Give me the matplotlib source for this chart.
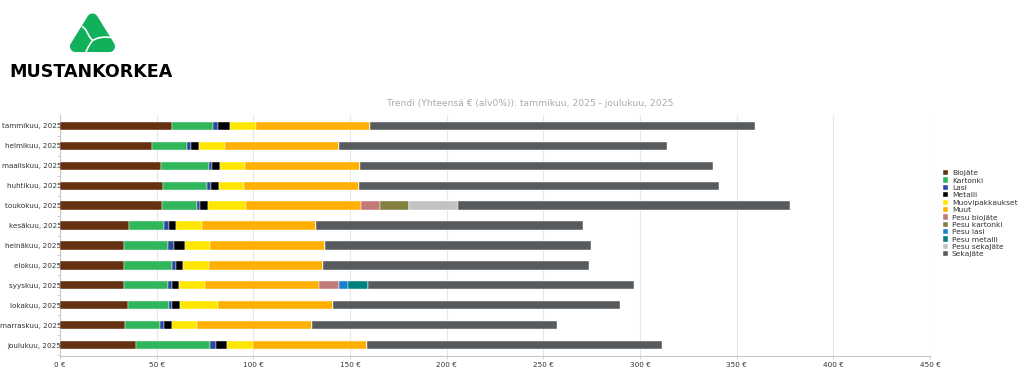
import numpy as np
import matplotlib
matplotlib.use("Agg")
import matplotlib.pyplot as plt
from matplotlib.patches import Polygon

# --- data -------------------------------------------------------------
months = ["tammikuu, 2025", "helmikuu, 2025", "maaliskuu, 2025", "huhtikuu, 2025",
          "toukokuu, 2025", "kesäkuu, 2025", "heinäkuu, 2025", "elokuu, 2025",
          "syyskuu, 2025", "lokakuu, 2025", "marraskuu, 2025", "joulukuu, 2025"]

biojate        = [57.8, 47.8, 52.3, 53.5, 52.6, 35.9, 33.3, 33.3, 33.3, 35.2, 33.8, 39.5]
kartonki       = [21.5, 18.1, 24.6, 22.5, 18.1, 18.1, 22.4, 24.6, 22.4, 21.0, 17.9, 37.9]
lasi           = [2.6, 1.9, 1.7, 2.1, 1.9, 2.2, 3.1, 2.1, 2.2, 1.9, 2.1, 3.3]
metalli        = [6.0, 4.1, 4.3, 4.2, 4.1, 4.0, 5.9, 3.8, 3.8, 4.1, 4.1, 5.8]
muovi          = [13.3, 13.5, 12.8, 12.9, 19.5, 13.1, 13.1, 13.1, 13.1, 19.5, 13.0, 13.2]
muut           = [59.2, 58.9, 59.5, 59.3, 59.4, 59.1, 59.3, 59.2, 59.3, 59.5, 59.3, 59.1]
pesu_biojate   = [0, 0, 0, 0, 9.9, 0, 0, 0, 10.1, 0, 0, 0]
pesu_kartonki  = [0, 0, 0, 0, 15.2, 0, 0, 0, 0, 0, 0, 0]
pesu_lasi      = [0, 0, 0, 0, 0, 0, 0, 0, 4.9, 0, 0, 0]
pesu_metalli   = [0, 0, 0, 0, 0, 0, 0, 0, 10.2, 0, 0, 0]
pesu_sekajate  = [0, 0, 0, 0, 25.2, 0, 0, 0, 0, 0, 0, 0]
sekajate       = [199.1, 169.6, 182.3, 186.4, 171.7, 138.0, 137.6, 137.7, 137.6, 148.3, 127.1, 152.5]

series_names = ["Biojäte", "Kartonki", "Lasi", "Metalli", "Muovipakkaukset", "Muut",
                "Pesu biojäte", "Pesu kartonki", "Pesu lasi", "Pesu metalli",
                "Pesu sekajäte", "Sekajäte"]
series_vals = [biojate, kartonki, lasi, metalli, muovi, muut, pesu_biojate,
               pesu_kartonki, pesu_lasi, pesu_metalli, pesu_sekajate, sekajate]
series_cols = ["#643210", "#2fb55a", "#2b48a0", "#000000", "#ffe600", "#ffb000",
               "#c07a78", "#838040", "#1a80cc", "#00807f", "#c2c2c2", "#575b5e"]

x_ticks = [0, 50, 100, 150, 200, 250, 300, 350, 400, 450]

# --- figure -----------------------------------------------------------
W, H = 1024, 372
fig = plt.figure(figsize=(W / 100, H / 100), dpi=100)
fig.patch.set_facecolor("white")

ax = fig.add_axes([60 / W, 1 - 356 / H, 870 / W, 241 / H])

y = np.arange(len(months))
left = np.zeros(len(months))
for name, vals, col in zip(series_names, series_vals, series_cols):
    vals = np.array(vals, dtype=float)
    ax.barh(y, vals, left=left, height=0.42, color=col, label=name,
            edgecolor="white", linewidth=0.3, zorder=3)
    left += vals

ax.set_ylim(len(months) - 0.45, -0.55)
ax.set_xlim(0, 450)
ax.set_yticks(y)
ax.set_yticklabels(months, fontsize=5.2, color="#333333")
ax.set_yticks(y + 0.5, minor=True)
ax.set_xticks(x_ticks)
ax.set_xticklabels([f"{t} €" for t in x_ticks], fontsize=5.2, color="#333333")
ax.tick_params(axis="y", length=2, width=0.5, color="#bbbbbb", pad=-3)
ax.tick_params(axis="y", which="minor", length=2, width=0.5, color="#bbbbbb")
ax.tick_params(axis="x", length=2, width=0.5, color="#bbbbbb", pad=2)
ax.grid(axis="x", color="#e6e6e6", linewidth=0.8, zorder=0)
for s in ["top", "right"]:
    ax.spines[s].set_visible(False)
for s in ["left", "bottom"]:
    ax.spines[s].set_color("#c8c8c8")
    ax.spines[s].set_linewidth(0.8)

fig.text(530 / W, 1 - 104 / H,
         "Trendi (Yhteensä € (alv0%)): tammikuu, 2025 - joulukuu, 2025",
         ha="center", va="center", fontsize=6.6, color="#aaaaaa")

ax.legend(loc="upper left", bbox_to_anchor=(940 / W, 1 - 167 / H),
          bbox_transform=fig.transFigure, frameon=False, fontsize=5.4,
          handlelength=0.7, handleheight=0.7, handletextpad=0.5,
          labelspacing=0.15, borderaxespad=0, labelcolor="#333333")

# --- logo -------------------------------------------------------------
lg = fig.add_axes([0, 1 - 100 / H, 200 / W, 100 / H])
lg.set_xlim(0, 200)
lg.set_ylim(100, 0)
lg.axis("off")
green = "#10b15a"
tri = Polygon([(92.5, 19), (75.5, 46.5), (109.5, 46.5)], closed=True, facecolor=green,
              edgecolor=green, linewidth=8, joinstyle="round")
lg.add_patch(tri)
# white swirl cuts
lg.plot([82, 86, 89, 92.5], [26, 30, 36, 40.5], color="white", lw=1.2, solid_capstyle="butt")
lg.plot([92.5, 98, 104, 112], [40.5, 38, 37, 37.5], color="white", lw=1.2, solid_capstyle="butt")
lg.plot([92.5, 90, 87.5, 85.5], [40.5, 44, 48.5, 53], color="white", lw=1.2, solid_capstyle="butt")
lg.text(91, 72, "MUSTANKORKEA", ha="center", va="center", fontsize=12.6,
        fontweight="heavy", color="black", family="DejaVu Sans")

fig.savefig("out.png", dpi=100)
